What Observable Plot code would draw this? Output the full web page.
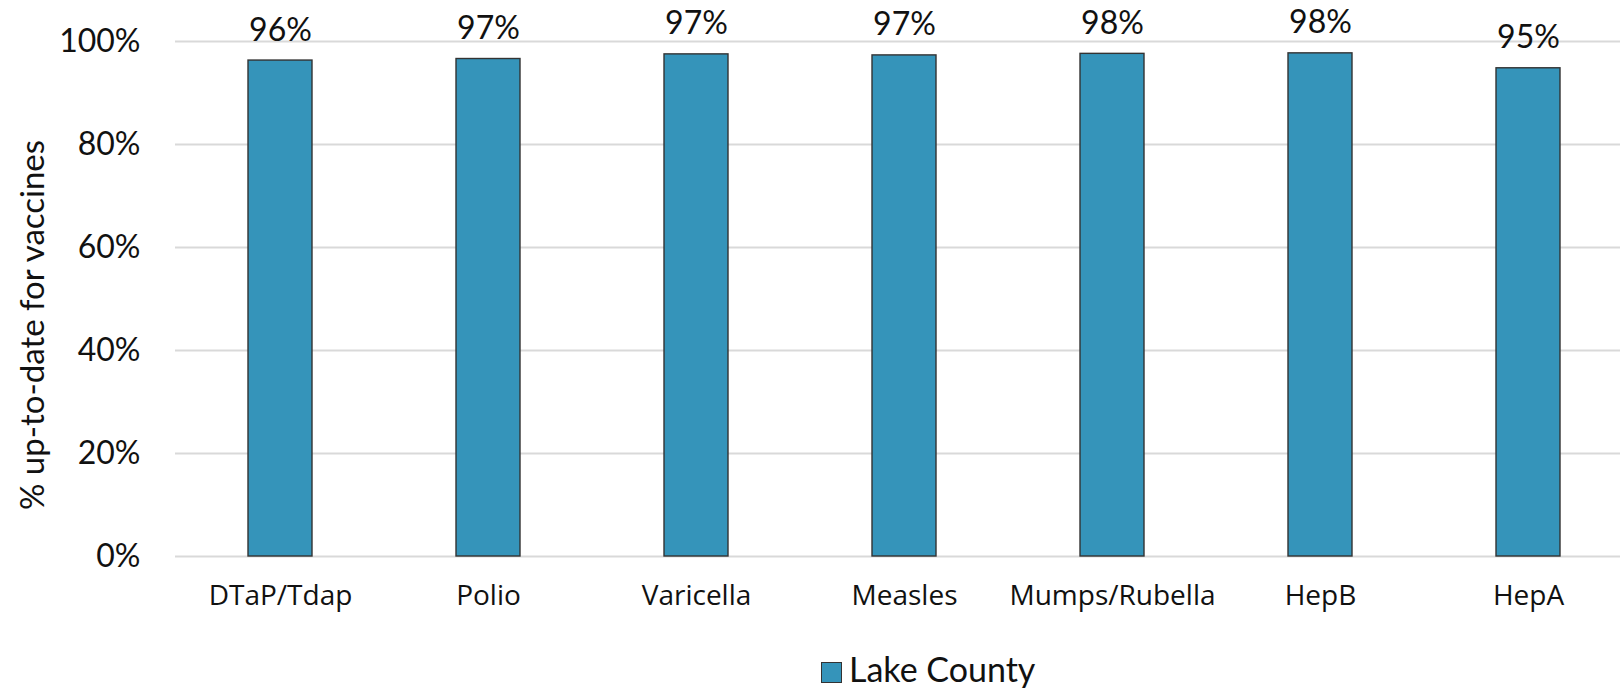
<!DOCTYPE html>
<html>
<head>
<meta charset="utf-8">
<script src="https://cdn.jsdelivr.net/npm/d3@7"></script>
<script src="https://cdn.jsdelivr.net/npm/@observablehq/plot@0.6"></script>
<style>
  html, body { margin: 0; padding: 0; background: #fff; }
  #chart svg { display: block; }
  .legend { position: relative; height: 51px; font-family: Lato, "Open Sans", sans-serif; }
  .legend .sw { position: absolute; left: 821px; top: 22px; width: 19px; height: 19px; background: #3594BA; border: 1.5px solid #333; }
  .legend .lb { position: absolute; left: 849px; top: 9px; font-size: 34px; line-height: 40px; color: #111; }
</style>
</head>
<body>
<div id="chart"></div>
<div class="legend"><div class="sw"></div><div class="lb">Lake County</div></div>
<script>
const vaccines = ["DTaP/Tdap", "Polio", "Varicella", "Measles", "Mumps/Rubella", "HepB", "HepA"];
const rates = [96.3, 96.6, 97.5, 97.3, 97.6, 97.7, 94.8];
const labels = ["96%", "97%", "97%", "97%", "98%", "98%", "95%"];
const yTicks = [0, 20, 40, 60, 80, 100];
const series = "Lake County";

const data = vaccines.map((v, i) => ({vaccine: v, rate: rates[i], label: labels[i]}));

const chart = Plot.plot({
  width: 1620,
  height: 640,
  marginTop: 41,
  marginBottom: 84,
  marginLeft: 175,
  marginRight: 0,
  style: {background: "#fff"},
  x: {domain: vaccines, range: [175, 1633], paddingInner: 0.69, paddingOuter: 0.345, label: null},
  y: {domain: [0, 100], label: null},
  marks: [
    Plot.ruleY(yTicks, {stroke: "#d9d9d9", strokeWidth: 2}),
    Plot.barY(data, {x: "vaccine", y: "rate", fill: "#3594BA", stroke: "#333", strokeWidth: 1.4}),
    Plot.text(data, {x: "vaccine", y: "rate", text: "label", lineAnchor: "bottom", dy: -20,
      fontSize: 32, fill: "#111", fontFamily: "Lato, 'Open Sans', sans-serif"}),
    Plot.axisX({tickSize: 0, tickPadding: 29, fontSize: 28, fontFamily: "'Open Sans', sans-serif", color: "#111"}),
    Plot.axisY({ticks: yTicks, tickSize: 0, tickPadding: 35, fontSize: 32, tickFormat: d => d + "%",
      fontFamily: "Lato, 'Open Sans', sans-serif", color: "#111"}),
    Plot.text(["% up-to-date for vaccines"], {frameAnchor: "left", textAnchor: "middle", dx: -142, dy: 26, rotate: -90,
      fontSize: 33, fill: "#111", fontFamily: "Lato, 'Open Sans', sans-serif"})
  ]
});
document.getElementById("chart").appendChild(chart);
</script>
</body>
</html>
